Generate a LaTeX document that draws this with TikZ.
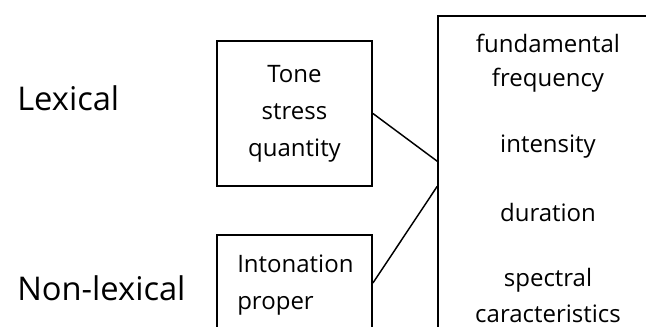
\documentclass[tikz,border=0pt]{standalone}
\usepackage{fontspec}
\setmainfont{Open Sans}
\usetikzlibrary{calc,positioning}
\tikzset{
    %boxes and the lines between them
    box/.style={draw, line width=1.4pt},
    link/.style={draw, line width=1.1pt},
    side/.style={anchor=west, inner sep=0pt, font=\fontsize{24.5}{30}\selectfont}
}

\begin{document}
\begin{tikzpicture}[x=0.75pt, y=-0.75pt, font=\fontsize{18}{27.75}\selectfont, every text node part/.style={align=center}]

	\useasboundingbox (0,0) rectangle (646,327);
	\clip (0,0) rectangle (646,327);

	\node (lexical) at (17,98) [side] {Lexical};
	\node (nonlexical) at (17,288) [side] {Non-lexical};

	\node (tone) at (294.5,113.5) [box, minimum width=116.25pt, minimum height=108.75pt] {Tone\\stress\\quantity};

	\node (intonation) at (294.5,283) [box, minimum width=116.25pt, minimum height=72pt] {};
	\node (intontext) at (237,285) [anchor=west, inner sep=0pt, every text node part/.style={align=left}] {Intonation\\proper};

	\node (features) at (553,186) [box, line width=1.1pt, minimum width=172.5pt, minimum height=255pt] {};
	\node (fundamental) at (548,63) [font=\fontsize{18}{25.5}\selectfont] {fundamental\\frequency};
	\node (intensity) at (548,147) {intensity};
	\node (duration) at (548,213) {duration};
	\node (spectral) at (548,296) [font=\fontsize{18}{27}\selectfont] {spectral\\caracteristics};

	\draw[link] (tone.east) -- ($(features.north west)+(0,146)$);
	\draw[link] (intonation.east) -- ($(features.north west)+(0,171)$);

\end{tikzpicture}
\end{document}
